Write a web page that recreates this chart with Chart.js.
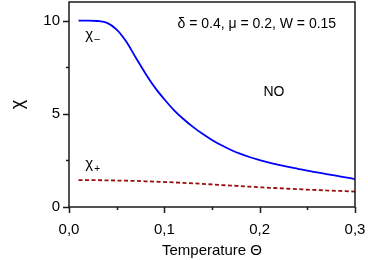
<!DOCTYPE html>
<html>
<head>
<meta charset="utf-8">
<script src="https://cdn.jsdelivr.net/npm/chart.js@4/dist/chart.umd.min.js"></script>
<style>
    html, body { margin: 0; padding: 0; background: #fff; }
    #wrap { width: 368px; height: 260px; }
</style>
</head>
<body>
<div id="wrap"><canvas id="chi"></canvas></div>
<script>
/* =========================
   DATOS
========================= */
const temps = [0.01, 0.02, 0.03, 0.04, 0.05, 0.06, 0.07, 0.08, 0.09, 0.10,
               0.11, 0.12, 0.13, 0.14, 0.15, 0.16, 0.17, 0.18, 0.19, 0.20,
               0.21, 0.22, 0.23, 0.24, 0.25, 0.26, 0.27, 0.28, 0.29, 0.30];
const chiMinus = [10.0, 10.0, 9.98, 9.88, 9.52, 8.88, 8.02, 7.18, 6.42, 5.78,
                  5.20, 4.72, 4.30, 3.93, 3.60, 3.31, 3.06, 2.85, 2.67, 2.52,
                  2.38, 2.26, 2.15, 2.05, 1.95, 1.86, 1.77, 1.68, 1.59, 1.50];
const chiPlus = [1.44, 1.44, 1.44, 1.43, 1.42, 1.41, 1.40, 1.38, 1.36, 1.34,
                 1.32, 1.29, 1.27, 1.24, 1.21, 1.18, 1.15, 1.12, 1.09, 1.06,
                 1.03, 1.01, 0.98, 0.96, 0.93, 0.91, 0.89, 0.87, 0.85, 0.83];
const xTicks = [0, 0.05, 0.1, 0.15, 0.2, 0.25, 0.3];
const yTicks = [0, 2.5, 5, 7.5, 10];

const FONT = "Arial, 'Liberation Sans', sans-serif";

/* =========================
   MARCO, TICKS Y TEXTOS
========================= */
const framePlugin = {
    id: "frame",
    afterDraw(chart) {
        const { ctx, chartArea: a, scales: { x, y } } = chart;
        ctx.save();
        ctx.strokeStyle = "#1a1a1a";
        ctx.lineWidth = 1.5;
        ctx.strokeRect(a.left, a.top, a.right - a.left, a.bottom - a.top);

        ctx.beginPath();
        x.ticks.forEach((t) => {
            const px = Math.round(x.getPixelForValue(t.value)) + 0.5;
            const major = Math.round(t.value * 100) % 10 === 0;
            ctx.moveTo(px, a.bottom);
            ctx.lineTo(px, a.bottom + (major ? 6 : 3));
        });
        y.ticks.forEach((t) => {
            const py = Math.round(y.getPixelForValue(t.value)) + 0.5;
            const major = t.value % 5 === 0;
            ctx.moveTo(a.left, py);
            ctx.lineTo(a.left - (major ? 6 : 3), py);
        });
        ctx.stroke();

        // textos
        ctx.fillStyle = "#000";
        ctx.textBaseline = "middle";
        ctx.font = "14px " + FONT;
        ctx.textAlign = "center";
        ctx.fillText("\u03B4 = 0.4, \u03BC = 0.2, W = 0.15", x.getPixelForValue(0.197), y.getPixelForValue(9.8));
        ctx.fillText("NO", x.getPixelForValue(0.215), y.getPixelForValue(6.15));

        ctx.textAlign = "left";
        const labels = [["\u2013", 9.25], ["+", 2.3]];
        labels.forEach(([sub, val]) => {
            const px = x.getPixelForValue(0.017);
            const py = y.getPixelForValue(val);
            ctx.font = "15px " + FONT;
            ctx.fillText("\u03C7", px, py);
            ctx.font = "10px " + FONT;
            ctx.fillText(sub, px + 9, py + 5);
        });
        ctx.restore();
    }
};

/* =========================
   GRAFICA
========================= */
new Chart(document.getElementById("chi"), {
    type: "line",
    data: {
        datasets: [{
            label: "chi-",
            data: temps.map((t, i) => ({ x: t, y: chiMinus[i] })),
            borderColor: "#0000ff",
            borderWidth: 1.8,
            pointRadius: 0,
            cubicInterpolationMode: "monotone"
        }, {
            label: "chi+",
            data: temps.map((t, i) => ({ x: t, y: chiPlus[i] })),
            borderColor: "#9a0d0d",
            borderWidth: 1.8,
            borderDash: [4, 2.5],
            pointRadius: 0,
            cubicInterpolationMode: "monotone"
        }]
    },
    options: {
        responsive: true,
        maintainAspectRatio: false,
        animation: false,
        layout: { padding: { top: 2, right: 13, left: 0, bottom: 0 } },
        plugins: {
            legend: { display: false },
            tooltip: { enabled: false }
        },
        scales: {
            x: {
                type: "linear",
                min: 0,
                max: 0.3,
                grid: { display: false },
                border: { display: false },
                afterBuildTicks: (s) => { s.ticks = xTicks.map((v) => ({ value: v })); },
                afterFit: (s) => { s.height = 53; s.paddingLeft = 0; s.paddingRight = 0; },
                ticks: {
                    color: "#000",
                    font: { family: FONT, size: 15 },
                    padding: 6,
                    maxRotation: 0,
                    autoSkip: false,
                    callback: (v) => Math.round(v * 100) % 10 === 0 ? v.toFixed(1).replace(".", ",") : ""
                },
                title: {
                    display: true,
                    text: "Temperature \u0398",
                    color: "#000",
                    font: { family: FONT, size: 15 },
                    padding: { top: 0, bottom: 0 }
                }
            },
            y: {
                min: 0,
                max: 11,
                grid: { display: false },
                border: { display: false },
                afterBuildTicks: (s) => { s.ticks = yTicks.map((v) => ({ value: v })); },
                afterFit: (s) => { s.width = 69; s.paddingTop = 0; s.paddingBottom = 0; },
                ticks: {
                    color: "#000",
                    font: { family: FONT, size: 15 },
                    padding: 1,
                    autoSkip: false,
                    callback: (v) => v % 5 === 0 ? String(v) : ""
                },
                title: {
                    display: true,
                    text: "\u03C7",
                    color: "#000",
                    font: { family: FONT, size: 18 },
                    padding: { top: 7, bottom: 0 }
                }
            }
        }
    },
    plugins: [framePlugin]
});
</script>
</body>
</html>
